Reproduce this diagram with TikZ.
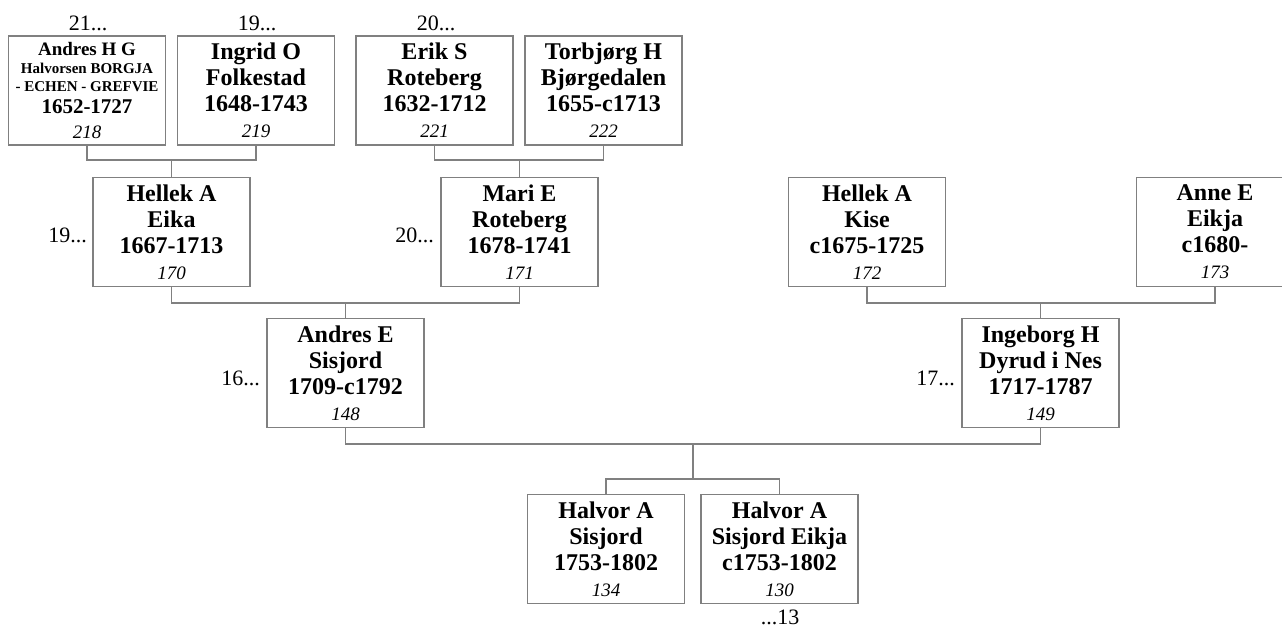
\documentclass[tikz,border=0pt]{standalone}
\usepackage{fontspec}
\setmainfont{Liberation Serif}
\definecolor{linegray}{RGB}{128,128,128}
\tikzset{
  person/.style={draw=linegray, line width=1.2pt, minimum width=157pt, minimum height=109pt,
    inner sep=0pt, align=center, fill=white, font=\fontsize{24}{26}\selectfont\bfseries},
  gen/.style={font=\fontsize{22}{24}\selectfont, inner sep=0pt},
  link/.style={draw=linegray, line width=1.2pt},
}
\newcommand{\refnum}[1]{{\fontsize{19}{26}\selectfont\mdseries\itshape #1}}
\begin{document}
\begin{tikzpicture}[x=1pt,y=-1pt]
\useasboundingbox (0,0) rectangle (1282,628);
\clip (0,0) rectangle (1282,628);
% top row
\node[person, font=\fontsize{15}{18}\selectfont\bfseries] (n218) at (87,90.5)
  {{\fontsize{19}{18}\selectfont Andres H G}\\Halvorsen BORGJA\\- ECHEN - GREFVIE\\[4pt]{\fontsize{21}{18}\selectfont 1652-1727}\\[7pt]\refnum{218}};
\node[person] (n219) at (256,90.5) {Ingrid O\\Folkestad\\1648-1743\\\refnum{219}};
\node[person] (n221) at (434.5,90.5) {Erik S\\Roteberg\\1632-1712\\\refnum{221}};
\node[person] (n222) at (603.5,90.5) {Torbjørg H\\Bjørgedalen\\1655-c1713\\\refnum{222}};
% second row
\node[person] (n170) at (171.5,232) {Hellek A\\Eika\\1667-1713\\\refnum{170}};
\node[person] (n171) at (519.5,232) {Mari E\\Roteberg\\1678-1741\\\refnum{171}};
\node[person] (n172) at (867,232) {Hellek A\\Kise\\c1675-1725\\\refnum{172}};
\node[person] (n173) at (1215,232) {Anne E\\Eikja\\c1680-\\\refnum{173}};
% third row
\node[person] (n148) at (345.5,373) {Andres E\\Sisjord\\1709-c1792\\\refnum{148}};
\node[person] (n149) at (1040.5,373) {Ingeborg H\\Dyrud i Nes\\1717-1787\\\refnum{149}};
% bottom row
\node[person] (n134) at (606,549) {Halvor A\\Sisjord\\1753-1802\\\refnum{134}};
\node[person] (n130) at (779.5,549) {Halvor A\\Sisjord Eikja\\c1753-1802\\\refnum{130}};
% generation labels
\node[gen, anchor=base] (g218) at (88,31) {21...};
\node[gen, anchor=base] (g219) at (257,31) {19...};
\node[gen, anchor=base] (g221) at (436,31) {20...};
\node[gen, anchor=base east] (g170) at (87,242.5) {19...};
\node[gen, anchor=base east] (g171) at (434,242.5) {20...};
\node[gen, anchor=base east] (g148) at (260,385) {16...};
\node[gen, anchor=base east] (g149) at (955,385) {17...};
\node[gen, anchor=base] (g130) at (780,624) {...13};
% junctions
\coordinate (j1) at (171.5,160);
\coordinate (j2) at (519.5,160);
\coordinate (j3) at (345.5,303);
\coordinate (j4) at (1040.5,303);
\coordinate (j5) at (693,444);
\coordinate (j6) at (693,479);
% connectors
\draw[link] (n218.south) |- (j1) -| (n219.south);
\draw[link] (j1) -- (n170.north);
\draw[link] (n221.south) |- (j2) -| (n222.south);
\draw[link] (j2) -- (n171.north);
\draw[link] (n170.south) |- (j3) -| (n171.south);
\draw[link] (j3) -- (n148.north);
\draw[link] (n172.south) |- (j4) -| (n173.south);
\draw[link] (j4) -- (n149.north);
\draw[link] (n148.south) |- (j5) -| (n149.south);
\draw[link] (j5) -- (j6);
\draw[link] (n134.north) |- (j6) -| (n130.north);
\end{tikzpicture}
\end{document}
